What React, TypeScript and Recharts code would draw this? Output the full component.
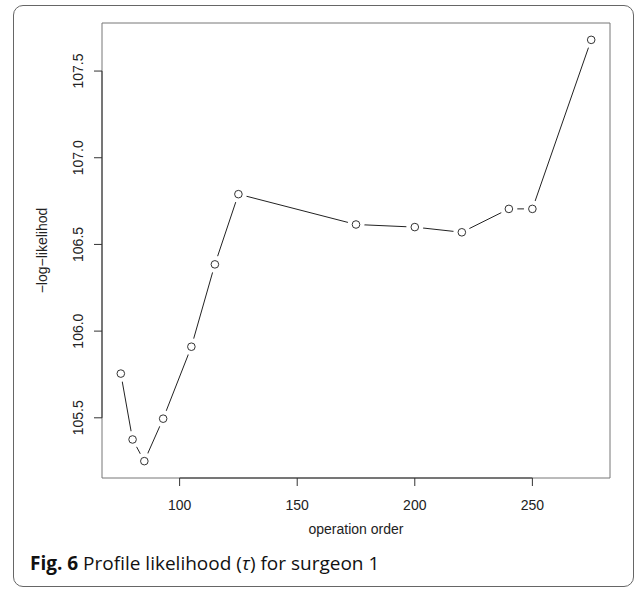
import React from "react";
import {
	LineChart,
	Line,
	XAxis,
	YAxis,
	ReferenceArea,
	ReferenceLine,
} from "recharts";

// operation order vs -log-likelihood (profile over tau)
const operationOrder = [75, 80, 85, 93, 105, 115, 125, 175, 200, 220, 240, 250, 275];
const negLogLik = [
	105.755, 105.375, 105.25, 105.495, 105.91, 106.385, 106.79, 106.615, 106.6,
	106.57, 106.705, 106.705, 107.68,
];
const xTicks = [100, 150, 200, 250];
const yTicks = [105.5, 106.0, 106.5, 107.0, 107.5];

const data = operationOrder.map((x, i) => ({ x, y: negLogLik[i] }));

// R style axis range: data range extended by 4% on each side
const pad = (vals: number[]): [number, number] => {
	const lo = Math.min(...vals);
	const hi = Math.max(...vals);
	const d = (hi - lo) * 0.04;
	return [lo - d, hi + d];
};
const xDomain = pad(operationOrder);
const yDomain = pad(negLogLik);

const axisFont = "'Liberation Sans', Arial, sans-serif";
const ink = "#222";

const OpenDot = (props: any) => {
	const { cx, cy, index } = props;
	if (cx == null || cy == null) return <g key={`d-${index}`} />;
	return (
		<g key={`d-${index}`}>
			<circle cx={cx} cy={cy} r={8.5} fill="#fff" stroke="none" />
			<circle cx={cx} cy={cy} r={3.8} fill="none" stroke="#333" strokeWidth={1} />
		</g>
	);
};

const RotatedTick = (props: any) => {
	const { x, y, payload } = props;
	return (
		<text
			x={x}
			y={y}
			transform={`rotate(-90, ${x}, ${y})`}
			textAnchor="middle"
			fontFamily={axisFont}
			fontSize={14}
			fill={ink}
		>
			{Number(payload.value).toFixed(1)}
		</text>
	);
};

export default function App() {
	return (
		<div
			style={{
				position: "absolute",
				left: 0,
				top: 0,
				width: 637,
				height: 589,
				background: "#fff",
			}}
		>
			<div
				style={{
					position: "absolute",
					left: 13,
					top: 5,
					width: 621,
					height: 582,
					boxSizing: "border-box",
					border: "1px solid #666",
					borderRadius: 10,
				}}
			/>
			<div style={{ position: "absolute", left: 0, top: 0 }}>
				<LineChart
					width={637}
					height={589}
					data={data}
					margin={{ top: 23, right: 27, bottom: 51, left: 42 }}
				>
					<XAxis
						type="number"
						dataKey="x"
						domain={xDomain}
						ticks={xTicks}
						allowDataOverflow
						height={60}
						axisLine={false}
						tickSize={8}
						tickMargin={14}
						tickLine={{ stroke: "#333" }}
						tick={{ fontFamily: axisFont, fontSize: 14, fill: ink }}
						label={(p: any) => {
							const vb = p.viewBox || {};
							return (
								<text
									x={vb.x + vb.width / 2}
									y={vb.y + 56}
									textAnchor="middle"
									fontFamily={axisFont}
									fontSize={14}
									fill={ink}
								>
									operation order
								</text>
							);
						}}
					/>
					<YAxis
						type="number"
						dataKey="y"
						domain={yDomain}
						ticks={yTicks}
						allowDataOverflow
						width={60}
						axisLine={false}
						tickSize={8}
						tickMargin={11}
						tickLine={{ stroke: "#333" }}
						tick={<RotatedTick />}
						label={(p: any) => {
							const vb = p.viewBox || {};
							const lx = vb.x + 5;
							const ly = vb.y + vb.height / 2;
							return (
								<text
									x={lx}
									y={ly}
									transform={`rotate(-90, ${lx}, ${ly})`}
									textAnchor="middle"
									fontFamily={axisFont}
									fontSize={14}
									fill={ink}
								>
									−log−likelihod
								</text>
							);
						}}
					/>
					<ReferenceArea
						x1={xDomain[0]}
						x2={xDomain[1]}
						y1={yDomain[0]}
						y2={yDomain[1]}
						fill="none"
						stroke="#777"
						strokeWidth={1}
					/>
					<ReferenceLine
						segment={[
							{ x: xTicks[0], y: yDomain[0] },
							{ x: xTicks[xTicks.length - 1], y: yDomain[0] },
						]}
						stroke="#333"
					/>
					<ReferenceLine
						segment={[
							{ x: xDomain[0], y: yTicks[0] },
							{ x: xDomain[0], y: yTicks[yTicks.length - 1] },
						]}
						stroke="#333"
					/>
					<Line
						type="linear"
						dataKey="y"
						stroke={ink}
						strokeWidth={1}
						dot={<OpenDot />}
						activeDot={false}
						isAnimationActive={false}
					/>
				</LineChart>
			</div>
			<div
				style={{
					position: "absolute",
					left: 30,
					top: 550,
					fontFamily: "'Open Sans', sans-serif",
					fontSize: 19,
					color: "#111",
					whiteSpace: "nowrap",
					lineHeight: "26px",
				}}
			>
				<b>Fig. 6</b> Profile likelihood (<i>τ</i>) for surgeon 1
			</div>
		</div>
	);
}
